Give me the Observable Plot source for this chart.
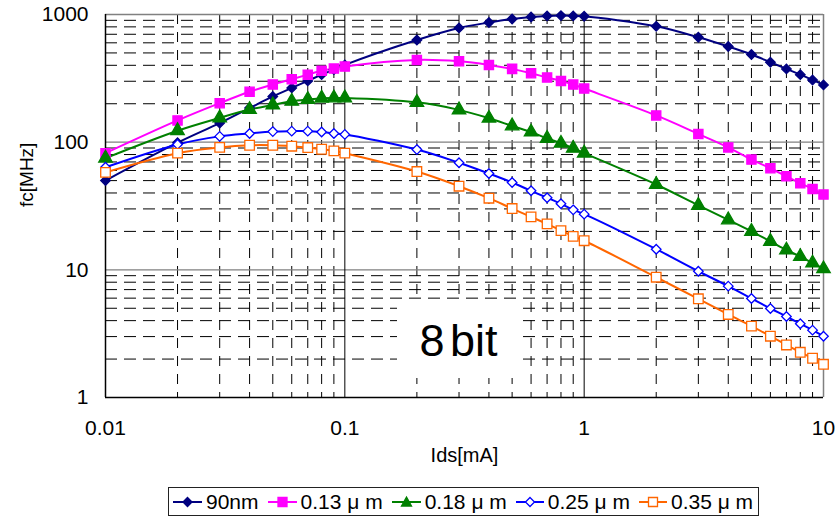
<!DOCTYPE html>
<html><head><meta charset="utf-8">
<script src="https://cdn.jsdelivr.net/npm/d3@7"></script>
<script src="https://cdn.jsdelivr.net/npm/@observablehq/plot@0.6"></script>
<style>
body{margin:0;background:#fff;font-family:"Liberation Sans",Arial,sans-serif;color:#000;}
#wrap{position:relative;width:837px;height:518px;overflow:hidden;}
#note{position:absolute;left:397px;top:300px;width:123px;height:78px;background:#fff;display:flex;align-items:center;justify-content:center;font-size:45px;word-spacing:-7px;line-height:1;padding-top:2px;box-sizing:border-box;}
#legend{position:absolute;left:168px;top:487px;width:591px;height:29px;border:1px solid #222;box-sizing:border-box;display:flex;align-items:center;padding-left:4px;font-size:21px;white-space:nowrap;}
.item{display:flex;align-items:center;margin-right:9px;}
.item svg{margin-right:4px;}
</style></head><body>
<div id="wrap"></div>
<script>
// X values: Ids [mA]
const ids = [0.01,0.02,0.03,0.04,0.05,0.06,0.07,0.08,0.09,0.1,0.2,0.3,0.4,0.5,0.6,0.7,0.8,0.9,1,2,3,4,5,6,7,8,9,10];
// Series values: fc [MHz]
const fc90nm = [50,99,141,185,228,266,302,338,370,403,632,785,865,923,957,975,980,975,968,808,663,561,486,423,375,338,307,281];
const fc013  = [82,148,202,248,283,311,338,362,377,391,441,430,403,375,347,321,302,283,263,162,116,91,73,62.5,54,47.6,43,38.9];
const fc018  = [75,123,155,180,196,209,216,221,222,222,205,179,154,134,120,107,98,89.5,82,46.6,32,24.6,20,16.7,14.3,12.7,11.3,10.2];
const fc025  = [63.6,96,111,117,121,122,122,120,117,115,87.5,69,56.8,48.3,41.6,36.7,32.9,29.5,27.3,14.5,9.75,7.45,5.96,4.98,4.31,3.78,3.37,3.02];
const fc035  = [58,82,91,94.6,94.6,93,90.8,88,85.5,82,58.9,45.2,36.4,30.2,26,22.9,20.3,18.3,16.9,8.75,5.93,4.47,3.62,3.02,2.58,2.26,2.03,1.82];
const seriesNames = ["90nm","0.13 μ m","0.18 μ m","0.25 μ m","0.35 μ m"];
const seriesValues = [fc90nm, fc013, fc018, fc025, fc035];
const colors = ["#000080","#FF00FF","#008000","#0000FF","#FF6600"];
const symbols = ["diamond2","square","triangle","diamond2","square"];
const fills = ["#000080","#FF00FF","#008000","#FFFFFF","#FFFFFF"];
const radii = [4.3,5.2,5.0,4.3,5.4];
// Tick labels
const xTicks = [0.01,0.1,1,10];
const xTickLabels = ["0.01","0.1","1","10"];
const yTicks = [1,10,100,1000];
const yTickLabels = ["1","10","100","1000"];
const xMinor = [0.01,0.1,1].flatMap(d => [2,3,4,5,6,7,8,9].map(k => +(k*d).toPrecision(3)));
const yMinor = [1,10,100].flatMap(d => [2,3,4,5,6,7,8,9].map(k => k*d));

const font = "Liberation Sans, Arial, sans-serif";
const marks = [
  Plot.ruleY(yMinor, {stroke:"#000", strokeWidth:1, strokeDasharray:"12,7"}),
  Plot.ruleX(xMinor, {stroke:"#000", strokeWidth:1, strokeDasharray:"10,8"}),
  Plot.ruleY([10,100], {stroke:"#808080", strokeWidth:1.3}),
  Plot.ruleX([0.1,1], {stroke:"#000", strokeWidth:1}),
  Plot.ruleY([1000], {stroke:"#808080", strokeWidth:1.5}),
  Plot.ruleX([10], {stroke:"#808080", strokeWidth:1.5}),
  Plot.ruleY([1], {stroke:"#000", strokeWidth:1.5}),
  Plot.ruleX([0.01], {stroke:"#000", strokeWidth:1.5}),
  Plot.axisX({ticks:xTicks, tickFormat:(d)=>xTickLabels[xTicks.indexOf(d)], tickSize:0, tickPadding:23, fontSize:21, label:null}),
  Plot.axisY({ticks:yTicks, tickFormat:(d)=>yTickLabels[yTicks.indexOf(d)], tickSize:0, tickPadding:17, fontSize:21, label:null}),
  Plot.text(["Ids[mA]"], {text:d=>d, frameAnchor:"bottom", dy:64, fontSize:20}),
  Plot.text(["fc[MHz]"], {text:d=>d, frameAnchor:"left", dx:-79, dy:1, rotate:-90, fontSize:19})
];
seriesValues.forEach((vals, si) => {
  const rows = ids.map((x, i) => ({x, y: vals[i]}));
  marks.push(Plot.line(rows, {x:"x", y:"y", stroke:colors[si], strokeWidth:2, curve:"catmull-rom"}));
});
seriesValues.forEach((vals, si) => {
  const rows = ids.map((x, i) => ({x, y: vals[i]}));
  marks.push(Plot.dot(rows, {x:"x", y:"y", symbol:symbols[si], r:radii[si], fill:fills[si], stroke:colors[si], strokeWidth:1.3}));
});

const chart = Plot.plot({
  width: 837, height: 484,
  marginLeft: 105, marginRight: 14, marginTop: 14, marginBottom: 87,
  x: {type:"log", domain:[0.01,10]},
  y: {type:"log", domain:[1,1000]},
  style: {fontFamily: font, background:"#fff", color:"#000"},
  marks
});
const wrap = document.getElementById("wrap");
wrap.appendChild(chart);

const note = document.createElement("div");
note.id = "note";
note.textContent = "8 bit";
wrap.appendChild(note);

const legend = document.createElement("div");
legend.id = "legend";
const symPath = {diamond2:"M14.5,8.5 L19,13 L14.5,17.5 L10,13 Z", square:"M10,8.5 H19 V17.5 H10 Z", triangle:"M14.5,8 L19.5,17 L9.5,17 Z"};
seriesNames.forEach((name, si) => {
  const item = document.createElement("div");
  item.className = "item";
  const w = si >= 3 ? 28 : 29;
  item.innerHTML = `<svg width="${w}" height="26" viewBox="0 0 ${w} 26"><line x1="0" y1="13" x2="${w}" y2="13" stroke="${colors[si]}" stroke-width="2"/><path d="${symPath[symbols[si]]}" transform="translate(${(w-29)/2},0)" fill="${fills[si]}" stroke="${colors[si]}" stroke-width="1.3"/></svg><span>${name}</span>`;
  legend.appendChild(item);
});
wrap.appendChild(legend);
</script>
</body></html>
